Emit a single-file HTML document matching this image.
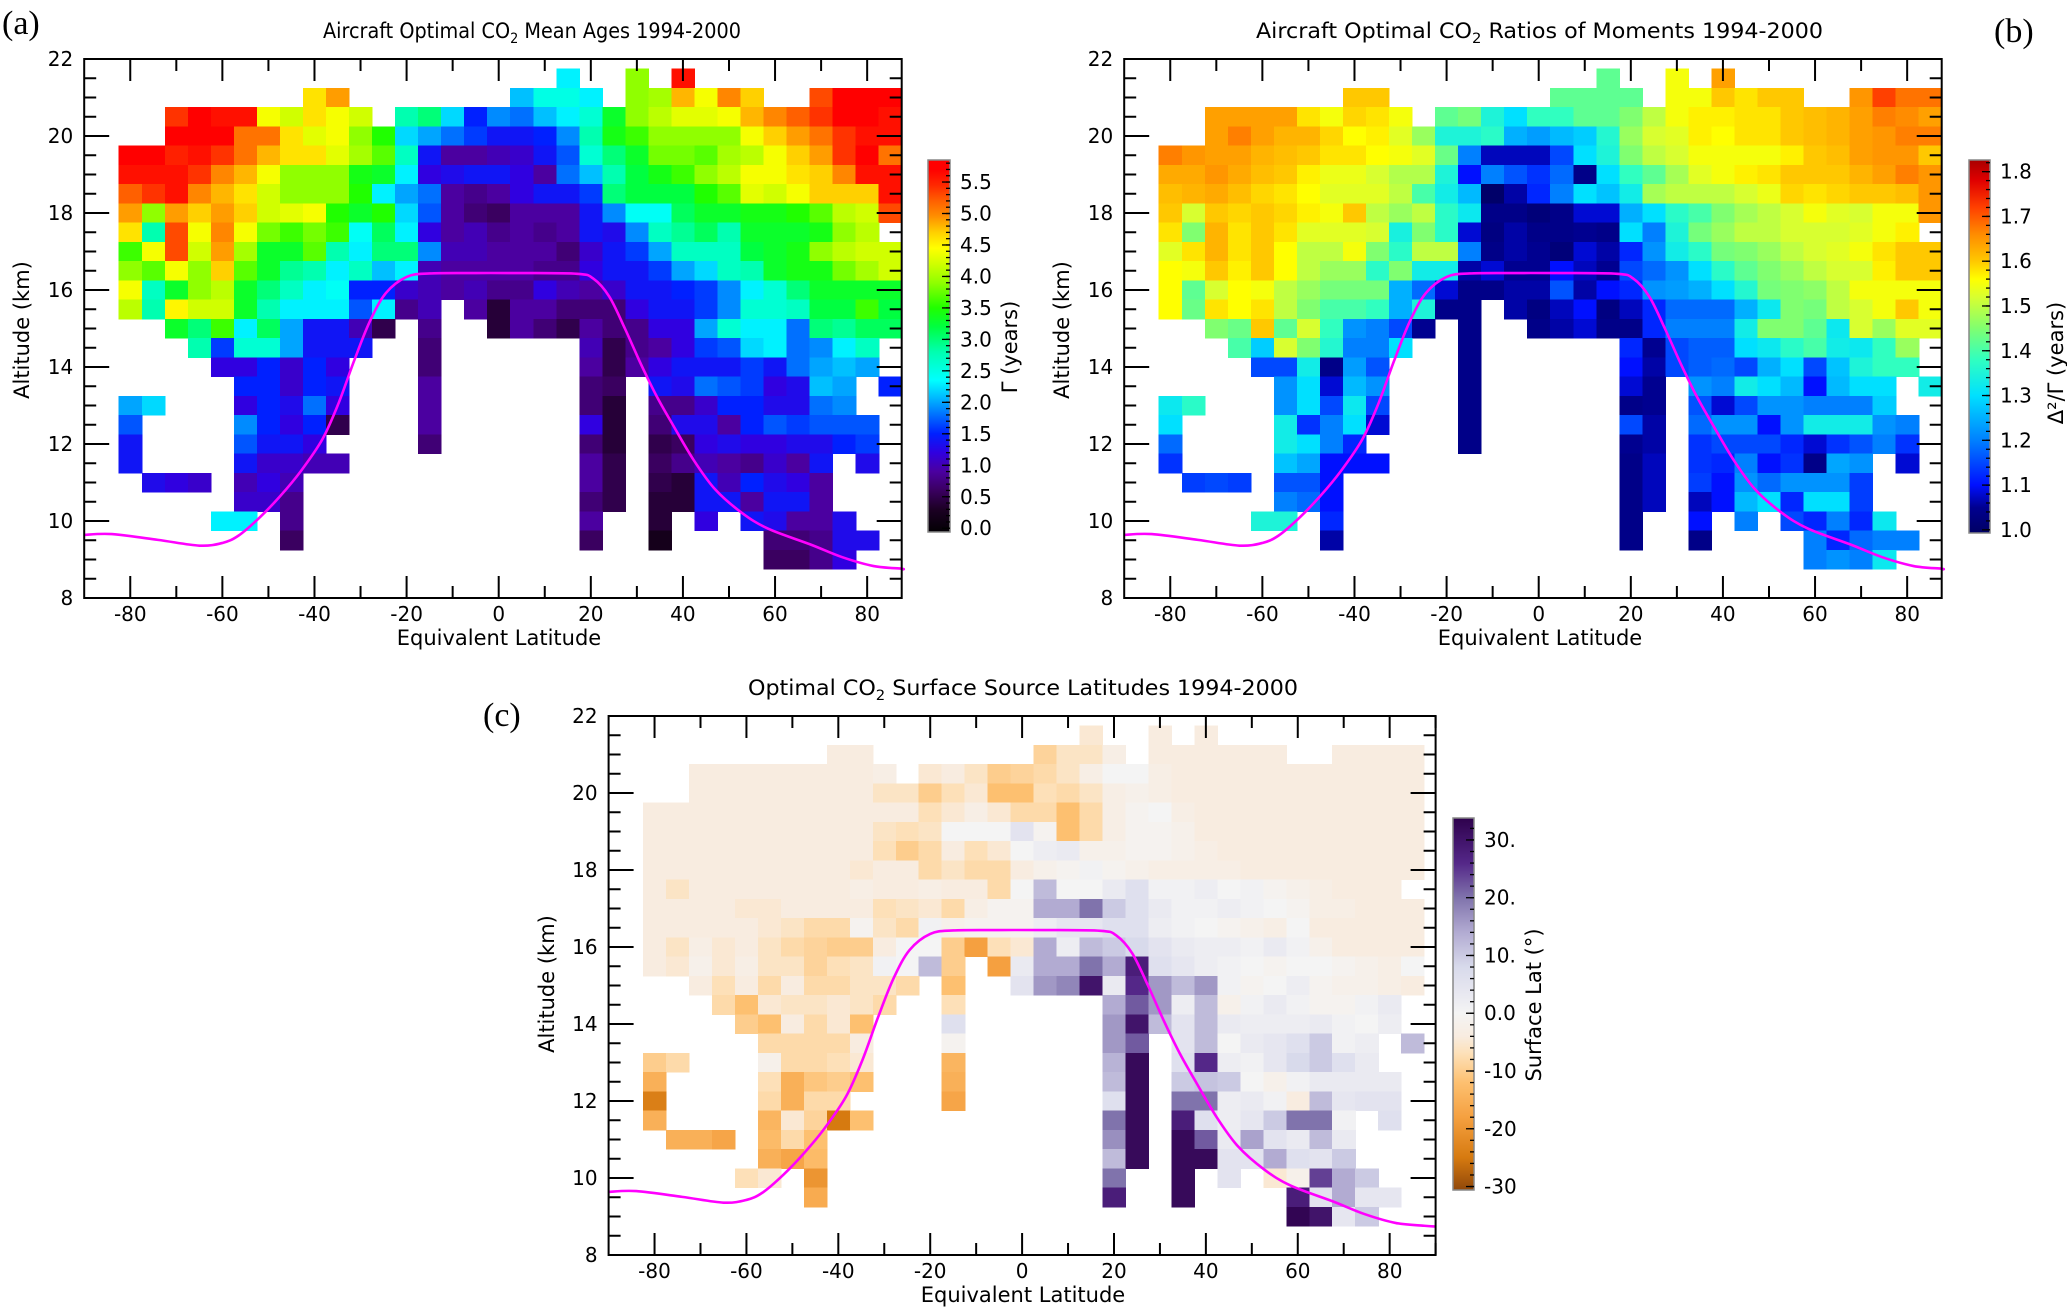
<!DOCTYPE html>
<html><head><meta charset="utf-8"><title>Optimal CO2 charts</title>
<style>
html,body{margin:0;padding:0;background:#fff;}
svg{display:block;font-family:"DejaVu Sans","Liberation Sans",sans-serif;}
</style></head>
<body>
<svg id="chart" width="2067" height="1307" viewBox="0 0 2067 1307">
<rect x="0" y="0" width="2067" height="1307" fill="#fff"/>
<g id="pa"></g>
<g id="pb"></g>
<g id="pc"></g>

<text x="2" y="34" font-family="Liberation Serif, serif" font-size="34">(a)</text>
<text x="1994" y="42" font-family="Liberation Serif, serif" font-size="34">(b)</text>
<text x="483" y="726" font-family="Liberation Serif, serif" font-size="34">(c)</text>

<text x="323" y="38" font-size="21" textLength="418" lengthAdjust="spacingAndGlyphs">Aircraft Optimal CO<tspan font-size="14" dy="5">2</tspan><tspan dy="-5"> Mean Ages  1994-2000</tspan></text>
<text x="1256" y="38" font-size="21" textLength="567" lengthAdjust="spacingAndGlyphs">Aircraft Optimal CO<tspan font-size="14" dy="5">2</tspan><tspan dy="-5"> Ratios of Moments  1994-2000</tspan></text>
<text x="748" y="695" font-size="21" textLength="550" lengthAdjust="spacingAndGlyphs">Optimal CO<tspan font-size="14" dy="5">2</tspan><tspan dy="-5"> Surface Source Latitudes  1994-2000</tspan></text>

<text x="499" y="645" font-size="21" text-anchor="middle">Equivalent Latitude</text>
<text x="1540" y="645" font-size="21" text-anchor="middle">Equivalent Latitude</text>
<text x="1023" y="1302" font-size="21" text-anchor="middle">Equivalent Latitude</text>

<text transform="translate(29,330) rotate(-90)" font-size="21" text-anchor="middle">Altitude (km)</text>
<text transform="translate(1069,330) rotate(-90)" font-size="21" text-anchor="middle">Altitude (km)</text>
<text transform="translate(554,984) rotate(-90)" font-size="21" text-anchor="middle">Altitude (km)</text>

<text transform="translate(1017,347) rotate(-90)" font-size="21" text-anchor="middle">Γ (years)</text>
<text transform="translate(2063,363) rotate(-90)" font-size="21" text-anchor="middle">Δ²/Γ (years)</text>
<text transform="translate(1541,1005) rotate(-90)" font-size="21" text-anchor="middle">Surface Lat (°)</text>
</svg>
<script>
// ---------- data ----------
const latCenters = [-80,-75,-70,-65,-60,-55,-50,-45,-40,-35,-30,-25,-20,-15,-10,-5,0,5,10,15,20,25,30,35,40,45,50,55,60,65,70,75,80,85];
const altCenters = [21.5,21,20.5,20,19.5,19,18.5,18,17.5,17,16.5,16,15.5,15,14.5,14,13.5,13,12.5,12,11.5,11,10.5,10,9.5,9];
const xTickLabels = [-80,-60,-40,-20,0,20,40,60,80];
const yTickLabels = [8,10,12,14,16,18,20,22];

const meanAgeRows = [
"_ _ _ _ _ _ _ _ _ _ _ _ _ _ _ _ _ _ _ 2.3 _ _ 3.9 _ 5.6 _ _ _ _ _ _ _ _ _",
"_ _ _ _ _ _ _ _ 4.6 4.9 _ _ _ _ _ _ _ 2.1 2.5 2.5 2.3 _ 3.9 4.0 4.8 4.4 5.0 4.7 _ _ 5.3 5.7 5.7 5.7",
"_ _ 5.4 5.7 5.6 5.6 4.4 4.2 4.6 4.4 4.2 _ 2.8 3.0 2.2 1.5 1.9 1.8 2.1 2.3 2.6 3.3 3.9 4.1 4.3 4.3 4.4 4.8 5.0 5.2 5.4 5.7 5.7 5.6",
"_ _ 5.7 5.7 5.7 5.1 5.1 4.6 4.3 4.4 3.9 3.5 2.2 2.0 1.8 1.6 1.4 1.4 1.5 1.9 2.8 3.4 3.6 3.9 3.9 3.9 3.9 4.4 4.7 4.9 5.1 5.4 5.6 5.6",
"5.7 5.7 5.5 5.6 5.4 5.1 4.8 4.6 4.6 4.3 4.0 3.7 2.7 1.4 0.9 0.9 1.0 1.1 1.4 1.7 2.6 3.0 3.3 3.8 3.8 3.7 4.0 4.1 4.4 4.7 4.9 5.4 5.7 5.1",
"5.6 5.6 5.6 5.4 5.0 4.8 4.4 3.9 3.9 3.9 3.4 3.3 2.3 1.2 1.3 1.4 1.4 1.2 0.9 1.8 2.1 2.8 3.2 3.4 3.6 3.9 4.1 4.4 4.4 4.6 4.7 5.0 5.6 5.6",
"5.2 5.4 5.6 5.0 4.8 4.6 4.2 3.9 3.9 3.9 3.5 2.3 2.0 1.8 0.9 0.8 0.9 1.2 1.4 1.4 1.6 3.0 3.2 3.2 3.2 3.5 3.7 4.3 4.2 4.4 4.7 4.7 4.7 5.6",
"4.9 3.9 4.9 4.7 4.9 4.7 4.2 4.3 4.4 3.5 3.3 3.5 2.2 1.7 0.9 0.7 0.6 0.9 0.9 0.9 1.4 1.9 2.4 2.4 3.1 3.3 3.3 3.4 3.4 3.5 3.7 4.1 4.2 5.3",
"4.6 2.8 5.3 4.4 5.0 4.4 3.8 3.6 3.8 3.6 2.4 3.1 2.3 1.2 0.9 1.0 0.8 0.9 0.8 0.9 1.4 1.3 1.9 2.7 2.9 3.1 2.8 3.3 3.3 3.3 3.4 3.9 4.1 _",
"3.6 4.4 5.3 4.2 4.9 4.0 3.3 3.3 3.7 2.8 2.3 3.0 3.0 1.9 1.0 1.0 0.9 0.9 0.9 0.7 1.1 1.4 1.6 2.0 2.7 2.7 2.7 3.2 3.3 3.4 3.9 4.1 4.2 4.2",
"3.9 3.7 4.4 3.9 4.7 3.7 3.3 2.9 2.8 2.3 2.7 2.1 2.3 1.0 0.9 0.9 0.9 0.9 0.8 0.8 1.2 1.4 1.4 1.6 2.0 2.2 2.7 2.8 3.3 3.4 3.4 3.8 4.0 4.2",
"4.4 2.7 3.3 3.9 4.1 3.3 3.0 2.7 2.3 2.4 1.5 1.5 1.1 1.0 0.9 1.0 0.8 0.8 1.2 1.0 0.9 1.1 1.4 1.4 1.5 1.6 1.9 2.3 2.6 3.0 3.3 3.3 3.3 3.3",
"4.1 2.8 4.5 4.2 4.2 3.3 2.8 2.3 2.3 2.3 1.7 2.3 0.8 1.0 _ 0.9 0.4 0.9 0.9 0.7 0.7 0.7 1.2 1.4 1.4 1.6 1.9 2.6 2.6 2.7 3.2 3.2 3.6 3.2",
"_ _ 3.3 3.0 3.6 2.3 3.1 2.0 1.4 1.4 1.0 0.5 _ 0.8 _ _ 0.4 0.9 0.7 0.5 0.9 0.7 0.8 1.2 1.2 2.0 2.6 2.3 2.3 1.8 3.0 2.9 3.1 3.1",
"_ _ _ 2.8 1.6 2.6 2.6 2.0 1.4 1.4 1.4 _ _ 0.7 _ _ _ _ _ _ 1.0 0.5 0.8 0.9 1.2 1.6 1.7 2.2 2.3 1.8 1.9 2.3 2.7 _",
"_ _ _ _ 1.2 1.2 1.5 1.1 1.5 1.2 _ _ _ 0.7 _ _ _ _ _ _ 0.9 0.5 0.9 1.2 1.4 1.4 1.4 1.6 1.4 1.8 2.0 2.1 2.0 _",
"_ _ _ _ _ 1.5 1.5 1.1 1.5 1.4 _ _ _ 0.9 _ _ _ _ _ _ 0.7 0.6 _ 1.4 1.3 1.8 1.7 1.6 1.2 1.3 2.1 2.0 _ 1.5",
"2.0 2.2 _ _ _ 1.2 1.5 1.3 1.8 1.2 _ _ _ 0.9 _ _ _ _ _ _ 0.7 0.4 _ 0.8 0.8 1.1 1.5 1.5 1.3 1.3 1.8 1.9 _ _",
"1.7 _ _ _ _ 1.9 1.5 1.2 1.5 0.5 _ _ _ 0.9 _ _ _ _ _ _ 1.2 0.4 _ 0.7 1.3 1.3 0.9 1.5 1.7 1.6 1.7 1.7 1.7 _",
"1.4 _ _ _ _ 1.7 1.4 1.4 1.2 _ _ _ _ 0.7 _ _ _ _ _ _ 0.7 0.4 _ 0.5 0.6 1.2 1.3 1.2 1.2 1.3 1.3 1.5 1.6 _",
"1.4 _ _ _ _ 1.4 1.1 1.1 1.0 1.0 _ _ _ _ _ _ _ _ _ _ 0.9 0.5 _ 0.6 0.8 1.0 0.9 0.8 1.1 0.9 1.4 _ 1.3 _",
"_ 1.3 1.2 1.1 _ 1.0 1.2 1.0 _ _ _ _ _ _ _ _ _ _ _ _ 0.9 0.5 _ 0.5 0.4 1.4 1.0 1.5 1.3 1.2 0.9 _ _ _",
"_ _ _ _ _ 1.1 1.1 0.8 _ _ _ _ _ _ _ _ _ _ _ _ 0.7 0.5 _ 0.4 0.4 1.4 1.4 0.9 1.4 1.4 0.9 _ _ _",
"_ _ _ _ 2.3 2.3 _ 0.8 _ _ _ _ _ _ _ _ _ _ _ _ 0.9 _ _ 0.4 _ 1.2 _ 1.4 1.3 0.9 0.9 1.3 _ _",
"_ _ _ _ _ _ _ 0.6 _ _ _ _ _ _ _ _ _ _ _ _ 0.6 _ _ 0.2 _ _ _ _ 0.7 0.7 0.8 1.3 1.3 _",
"_ _ _ _ _ _ _ _ _ _ _ _ _ _ _ _ _ _ _ _ _ _ _ _ _ _ _ _ 0.6 0.6 0.8 1.2 _ _"
];

const momentRatioRows = [
"_ _ _ _ _ _ _ _ _ _ _ _ _ _ _ _ _ _ _ 1.42 _ _ 1.55 _ 1.64 _ _ _ _ _ _ _ _ _",
"_ _ _ _ _ _ _ _ 1.60 1.60 _ _ _ _ _ _ _ 1.42 1.42 1.42 1.42 _ 1.55 1.55 1.60 1.58 1.60 1.60 _ _ 1.65 1.72 1.68 1.68",
"_ _ 1.64 1.64 1.64 1.64 1.58 1.55 1.59 1.58 1.55 _ 1.42 1.44 1.35 1.30 1.38 1.38 1.42 1.42 1.45 1.50 1.55 1.57 1.57 1.58 1.58 1.60 1.61 1.62 1.64 1.67 1.66 1.64",
"_ _ 1.64 1.67 1.64 1.62 1.62 1.59 1.56 1.57 1.53 1.47 1.35 1.35 1.37 1.25 1.23 1.26 1.28 1.36 1.47 1.52 1.53 1.57 1.56 1.58 1.58 1.60 1.61 1.62 1.64 1.65 1.67 1.67",
"1.67 1.65 1.64 1.64 1.62 1.61 1.60 1.58 1.58 1.56 1.55 1.53 1.43 1.20 1.07 1.07 1.07 1.15 1.30 1.35 1.45 1.50 1.52 1.55 1.55 1.55 1.55 1.57 1.60 1.61 1.64 1.65 1.65 1.60",
"1.63 1.63 1.65 1.63 1.61 1.60 1.57 1.54 1.54 1.52 1.49 1.49 1.35 1.10 1.20 1.16 1.13 1.18 1.04 1.30 1.38 1.42 1.48 1.53 1.55 1.57 1.58 1.60 1.60 1.60 1.62 1.64 1.67 1.65",
"1.61 1.62 1.63 1.61 1.59 1.58 1.56 1.53 1.53 1.53 1.50 1.40 1.33 1.26 1.00 1.06 1.12 1.20 1.30 1.27 1.33 1.48 1.50 1.50 1.50 1.52 1.54 1.59 1.58 1.59 1.60 1.60 1.61 1.65",
"1.60 1.52 1.60 1.59 1.60 1.59 1.57 1.55 1.60 1.50 1.47 1.50 1.37 1.32 1.04 1.04 1.02 1.04 1.08 1.08 1.25 1.30 1.37 1.40 1.45 1.48 1.50 1.52 1.55 1.53 1.52 1.55 1.55 1.65",
"1.58 1.45 1.62 1.58 1.60 1.58 1.53 1.53 1.53 1.52 1.34 1.45 1.37 1.08 1.03 1.06 1.04 1.04 1.05 1.04 1.30 1.20 1.35 1.44 1.47 1.50 1.50 1.52 1.52 1.52 1.53 1.55 1.57 _",
"1.53 1.58 1.62 1.58 1.60 1.56 1.50 1.50 1.55 1.45 1.37 1.50 1.50 1.20 1.04 1.06 1.05 1.02 1.08 1.06 1.12 1.22 1.33 1.37 1.44 1.45 1.47 1.50 1.52 1.53 1.55 1.58 1.60 1.60",
"1.56 1.55 1.60 1.57 1.60 1.56 1.50 1.47 1.47 1.37 1.45 1.33 1.33 1.06 1.08 1.05 1.05 1.10 1.07 1.05 1.15 1.18 1.22 1.30 1.37 1.42 1.45 1.47 1.50 1.52 1.52 1.57 1.60 1.60",
"1.56 1.42 1.52 1.56 1.55 1.50 1.47 1.44 1.44 1.44 1.25 1.18 1.08 1.04 1.04 1.06 1.06 1.16 1.06 1.10 1.12 1.22 1.23 1.25 1.30 1.36 1.44 1.45 1.46 1.50 1.55 1.55 1.55 1.55",
"1.56 1.43 1.58 1.56 1.58 1.50 1.45 1.40 1.40 1.38 1.25 1.35 1.04 1.04 _ 1.06 1.03 1.07 1.10 1.03 1.07 1.12 1.18 1.18 1.18 1.25 1.32 1.45 1.44 1.50 1.52 1.55 1.60 1.55",
"_ _ 1.45 1.43 1.60 1.42 1.52 1.38 1.22 1.20 1.15 1.05 _ 1.04 _ _ 1.04 1.06 1.08 1.04 1.04 1.12 1.20 1.20 1.20 1.33 1.45 1.45 1.42 1.32 1.52 1.47 1.53 1.53",
"_ _ _ 1.40 1.28 1.52 1.45 1.36 1.20 1.20 1.30 _ _ 1.04 _ _ _ _ _ _ 1.12 1.05 1.15 1.17 1.17 1.30 1.32 1.37 1.40 1.33 1.32 1.38 1.47 _",
"_ _ _ _ 1.15 1.15 1.33 1.04 1.23 1.16 _ _ _ 1.04 _ _ _ _ _ _ 1.10 1.06 1.15 1.17 1.18 1.15 1.25 1.30 1.15 1.27 1.35 1.38 1.38 _",
"_ _ _ _ _ 1.22 1.30 1.08 1.26 1.22 _ _ _ 1.04 _ _ _ _ _ _ 1.08 1.05 _ 1.22 1.20 1.33 1.30 1.26 1.10 1.26 1.30 1.30 _ 1.33",
"1.32 1.37 _ _ _ 1.22 1.30 1.15 1.32 1.15 _ _ _ 1.04 _ _ _ _ _ _ 1.04 1.05 _ 1.16 1.08 1.15 1.22 1.22 1.20 1.20 1.20 1.28 _ _",
"1.30 _ _ _ _ 1.33 1.13 1.20 1.30 1.08 _ _ _ 1.04 _ _ _ _ _ _ 1.15 1.06 _ 1.18 1.22 1.22 1.10 1.22 1.33 1.33 1.33 1.22 1.20 _",
"1.18 _ _ _ _ 1.33 1.30 1.20 1.12 _ _ _ _ 1.04 _ _ _ _ _ _ 1.05 1.06 _ 1.13 1.15 1.15 1.15 1.12 1.08 1.13 1.16 1.20 1.13 _",
"1.13 _ _ _ _ 1.27 1.24 1.10 1.10 1.10 _ _ _ _ _ _ _ _ _ _ 1.04 1.07 _ 1.13 1.12 1.20 1.10 1.13 1.04 1.24 1.22 _ 1.08 _",
"_ 1.14 1.15 1.14 _ 1.16 1.16 1.10 _ _ _ _ _ _ _ _ _ _ _ _ 1.04 1.07 _ 1.14 1.10 1.22 1.18 1.22 1.22 1.22 1.14 _ _ _",
"_ _ _ _ _ 1.20 1.18 1.10 _ _ _ _ _ _ _ _ _ _ _ _ 1.04 1.07 _ 1.07 1.10 1.26 1.30 1.12 1.30 1.30 1.14 _ _ _",
"_ _ _ _ 1.35 1.35 _ 1.12 _ _ _ _ _ _ _ _ _ _ _ _ 1.04 _ _ 1.10 _ 1.20 _ 1.15 1.12 1.20 1.12 1.32 _ _",
"_ _ _ _ _ _ _ 1.06 _ _ _ _ _ _ _ _ _ _ _ _ 1.04 _ _ 1.04 _ _ _ _ 1.20 1.12 1.18 1.20 1.20 _",
"_ _ _ _ _ _ _ _ _ _ _ _ _ _ _ _ _ _ _ _ _ _ _ _ _ _ _ _ 1.20 1.22 1.20 1.32 _ _"
];

const sourceLatRows = [
"_ _ _ _ _ _ _ _ _ _ _ _ _ _ _ _ _ _ _ -5 _ _ -4 _ -4 _ _ _ _ _ _ _ _ _",
"_ _ _ _ _ _ _ _ -4 -4 _ _ _ _ _ _ _ -9 -6 -6 -3 _ -4 -4 -4 -4 -4 -4 _ _ -4 -4 -4 -4",
"_ _ -4 -4 -4 -4 -4 -4 -4 -4 -3 _ -5 -4 -6 -10 -9 -8 -6 -3 0 0 -3 -4 -4 -4 -4 -4 -4 -4 -4 -4 -4 -4",
"_ _ -4 -4 -4 -4 -4 -4 -4 -4 -6 -6 -10 -7 -5 -12 -12 -7 -8 -6 -3 -2 -3 -4 -4 -4 -4 -4 -4 -4 -4 -4 -4 -4",
"-4 -4 -4 -4 -4 -4 -4 -4 -4 -4 -4 -4 -7 -5 -3 -5 -8 -8 -12 -8 -3 -1 0 -3 -4 -4 -4 -4 -4 -4 -4 -4 -4 -4",
"-4 -4 -4 -4 -4 -4 -4 -4 -4 -4 -6 -7 -6 0 0 0 5 -1 -12 -8 -3 -1 -1 -2 -4 -4 -4 -4 -4 -4 -4 -4 -4 -4",
"-4 -4 -4 -4 -4 -4 -4 -4 -4 -4 -7 -10 -8 -4 -7 -5 0 2 3 -2 -2 -1 -1 -2 -3 -4 -4 -4 -4 -4 -4 -4 -4 -4",
"-4 -4 -4 -4 -4 -4 -4 -4 -4 -5 -4 -4 -8 -6 -8 -8 -4 -2 -1 1 -1 -2 -3 -3 -3 -3 -4 -4 -4 -4 -4 -4 -4 -4",
"-4 -6 -4 -4 -4 -4 -4 -4 -4 -3 -4 -4 -3 -4 -4 -8 0 12 0 0 3 6 1 1 2 0 1 -1 -2 -3 -4 -4 -4 _",
"-4 -4 -4 -4 -5 -5 -4 -4 -4 -4 -7 -6 -5 -8 -3 -1 -1 14 14 20 10 6 3 1 1 2 1 0 -1 -3 -3 -4 -4 -4",
"-4 -4 -4 -4 -4 -5 -6 -8 -8 -1 -6 -8 1 -2 -1 -1 -1 2 4 4 6 6 2 1 0 -1 -2 -3 0 -4 -4 -4 -4 -4",
"-4 -6 -3 -5 -4 -6 -8 -9 -10 -10 -4 0 0 -10 -18 -7 -5 14 2 12 10 8 5 3 2 2 1 3 1 -2 -4 -4 -4 -4",
"-4 -5 -2 -5 -3 -6 -6 -9 -7 -6 1 0 12 -10 _ -18 3 14 14 20 14 28 6 4 2 1 0 -1 0 0 -1 -2 -3 0",
"_ _ -4 -7 -4 -8 -4 -8 -8 -6 -6 -8 _ -12 _ _ 5 16 18 30 3 26 16 12 16 1 -1 0 2 -1 -2 -2 -3 -4",
"_ _ _ -8 -12 -5 -6 -6 -5 -6 -8 _ _ -7 _ _ _ _ _ _ 14 22 16 2 12 -2 1 3 1 -1 -1 1 3 _",
"_ _ _ _ -10 -12 -4 -8 -5 -12 _ _ _ 6 _ _ _ _ _ _ 16 30 12 5 12 3 2 2 2 3 1 0 2 _",
"_ _ _ _ _ -8 -8 -8 -8 -4 _ _ _ -1 _ _ _ _ _ _ 16 22 _ 5 12 0 3 4 6 10 1 2 _ 12",
"-10 -8 _ _ _ -2 -8 -8 -7 -5 _ _ _ -14 _ _ _ _ _ _ 13 32 _ 6 26 2 1 4 8 10 6 3 _ _",
"-15 _ _ _ _ -7 -15 -11 -10 -12 _ _ _ -15 _ _ _ _ _ _ 12 32 _ 10 11 10 0 -2 1 3 3 3 3 _",
"-24 _ _ _ _ -8 -15 -8 -8 _ _ _ _ -17 _ _ _ _ _ _ 6 32 _ 20 20 2 3 1 -4 12 4 5 5 _",
"-15 _ _ _ _ -14 -5 -9 -25 -12 _ _ _ _ _ _ _ _ _ _ 20 32 _ 28 6 2 4 10 20 20 1 _ 6 _",
"_ -15 -15 -17 _ -13 -8 -12 _ _ _ _ _ _ _ _ _ _ _ _ 17 32 _ 32 22 3 15 5 3 12 3 _ _ _",
"_ _ _ _ _ -15 -17 -13 _ _ _ _ _ _ _ _ _ _ _ _ 12 32 _ 32 32 5 5 14 6 5 10 _ _ _",
"_ _ _ _ -7 -5 _ -20 _ _ _ _ _ _ _ _ _ _ _ _ 20 _ _ 32 _ 5 _ -5 -2 24 14 10 _ _",
"_ _ _ _ _ _ _ -16 _ _ _ _ _ _ _ _ _ _ _ _ 28 _ _ 32 _ _ _ _ 28 5 14 4 4 _",
"_ _ _ _ _ _ _ _ _ _ _ _ _ _ _ _ _ _ _ _ _ _ _ _ _ _ _ _ 33 30 4 10 _ _"
];

// tropopause (equivalent latitude, altitude km)
const tropLat = [-90,-84,-74,-65,-60,-56.5,-52,-47.5,-43,-38.3,-34.8,-31.4,-28,-24.5,-20,-15,-5,5,17,20.5,24,27.4,30.9,34.3,37.8,42.4,47,52.7,58.5,67.7,74.6,81.4,87.5,90];
const tropAlt = [9.64,9.66,9.51,9.36,9.43,9.62,10.08,10.64,11.29,12.12,13.05,14.16,15.18,15.92,16.34,16.43,16.44,16.44,16.42,16.3,15.83,15.0,14.07,13.24,12.5,11.57,10.82,10.22,9.8,9.39,9.06,8.83,8.76,8.74];

const ageTicks = [0,0.5,1,1.5,2,2.5,3,3.5,4,4.5,5,5.5];
const ratioTicks = [1.0,1.1,1.2,1.3,1.4,1.5,1.6,1.7,1.8];
const srcTicks = [30,20,10,0,-10,-20,-30];
const srcTickLabels = ["30.","20.","10.","0.0","-10","-20","-30"];

// ---------- colour maps (style) ----------
const rainbowStops=[[-0.1,'#000000'],[0.3,'#1c0024'],[0.6,'#3a0060'],[0.9,'#4b00a0'],[1.2,'#3000e0'],[1.5,'#0020ff'],[1.8,'#0070ff'],[2.1,'#00c0ff'],[2.35,'#00ffff'],[2.8,'#00ffb0'],[3.2,'#00ff40'],[3.5,'#20ff00'],[3.9,'#90ff00'],[4.2,'#d0ff00'],[4.45,'#ffff00'],[4.7,'#ffd000'],[4.95,'#ff9000'],[5.2,'#ff6000'],[5.45,'#ff2800'],[5.7,'#ff0000'],[6.1,'#ff0000']];
const jetStops=[[0.98,'#00005a'],[1.05,'#000090'],[1.1,'#0010ff'],[1.2,'#0080ff'],[1.3,'#00e0ff'],[1.38,'#30ffc0'],[1.45,'#80ff70'],[1.52,'#d8ff30'],[1.56,'#ffff00'],[1.6,'#ffc800'],[1.66,'#ff8c00'],[1.72,'#ff4000'],[1.78,'#e00000'],[1.86,'#800000']];
const puorStops=[[-32,'#7f3b08'],[-25,'#d67a10'],[-18,'#f5a040'],[-12,'#fdc070'],[-7,'#fde0b8'],[-4,'#f8ece0'],[0,'#f4f4f4'],[4,'#e6e6f0'],[8,'#d8daeb'],[14,'#b2abd2'],[20,'#8073ac'],[26,'#542788'],[34,'#2d004b']];

function hex(c){return [parseInt(c.substr(1,2),16),parseInt(c.substr(3,2),16),parseInt(c.substr(5,2),16)];}
function cmap(stops,v){
  if(v<=stops[0][0]) return stops[0][1];
  for(let i=1;i<stops.length;i++){
    if(v<=stops[i][0]){
      const t=(v-stops[i-1][0])/(stops[i][0]-stops[i-1][0]);
      const a=hex(stops[i-1][1]),b=hex(stops[i][1]);
      return 'rgb('+a.map((x,k)=>Math.round(x+(b[k]-x)*t)).join(',')+')';
    }
  }
  return stops[stops.length-1][1];
}
function parseRows(rows){return rows.map(r=>r.trim().split(/\s+/).map(t=>t==='_'?null:parseFloat(t)));}

const svg=document.getElementById('chart');
const NS=svg.namespaceURI;
function mk(parent,tag,attrs,text){const e=document.createElementNS(NS,tag);for(const k in attrs)e.setAttribute(k,attrs[k]);if(text!=null)e.textContent=text;parent.appendChild(e);return e;}

function drawPanel(g,cfg){
  const X=lat=>cfg.x0+(lat-cfg.latMin)/(cfg.latMax-cfg.latMin)*(cfg.x1-cfg.x0);
  const Y=alt=>cfg.y1-(alt-8)/14*(cfg.y1-cfg.y0);
  const grid=parseRows(cfg.rows);
  const cells=mk(g,'g',{'shape-rendering':'crispEdges'});
  
  
  grid.forEach((row,j)=>{
    row.forEach((v,i)=>{
      if(v===null) return;
      const lat=latCenters[i], alt=altCenters[j];
      const xa=X(Math.max(lat-2.5,cfg.latMin)), xb=X(Math.min(lat+2.5,cfg.latMax));
      const ya=Y(alt+0.25), yb=Y(alt-0.25);
      const r=mk(cells,'rect',{x:xa.toFixed(2),y:ya.toFixed(2),width:(xb-xa+0.6).toFixed(2),height:(yb-ya+0.6).toFixed(2),fill:cmap(cfg.stops,v)});
      
      
    });
  });
  const pts=tropLat.map((la,k)=>[X(Math.min(la,cfg.latMax)),Y(tropAlt[k])]);
  let d='M'+pts[0][0].toFixed(2)+','+pts[0][1].toFixed(2);
  for(let k=0;k<pts.length-1;k++){
    const p0=pts[Math.max(k-1,0)],p1=pts[k],p2=pts[k+1],p3=pts[Math.min(k+2,pts.length-1)];
    const c1=[p1[0]+(p2[0]-p0[0])/6,p1[1]+(p2[1]-p0[1])/6];
    const c2=[p2[0]-(p3[0]-p1[0])/6,p2[1]-(p3[1]-p1[1])/6];
    d+=' C'+c1.map(n=>n.toFixed(2)).join(',')+' '+c2.map(n=>n.toFixed(2)).join(',')+' '+p2.map(n=>n.toFixed(2)).join(',');
  }
  const line=mk(g,'path',{d:d,fill:'none',stroke:'#ff00ff','stroke-width':2.6});
  
  
  const fr=mk(g,'rect',{x:cfg.x0,y:cfg.y0,width:cfg.x1-cfg.x0,height:cfg.y1-cfg.y0,fill:'none',stroke:'#000','stroke-width':2});
  
  
  const ax=mk(g,'g',{stroke:'#000','stroke-width':2});
  
  
  for(let la=-80;la<=cfg.latMax;la+=10){
    const major=(la%20===0);
    const L=major?22:12, x=X(la);
    mk(ax,'line',{x1:x,y1:cfg.y1,x2:x,y2:cfg.y1-L});
    mk(ax,'line',{x1:x,y1:cfg.y0,x2:x,y2:cfg.y0+L});
  }
  for(let a=8.5;a<22;a+=0.5){
    const major=(Math.abs(a%2)<1e-6);
    const L=major?25:12, y=Y(a);
    mk(ax,'line',{x1:cfg.x0,y1:y,x2:cfg.x0+L,y2:y});
    mk(ax,'line',{x1:cfg.x1,y1:y,x2:cfg.x1-L,y2:y});
  }
  xTickLabels.forEach(la=>{
    const t=mk(g,'text',{x:X(la).toFixed(1),y:cfg.y1+23,'font-size':20,'text-anchor':'middle'},String(la));
    
    
  });
  yTickLabels.forEach(a=>{
    const t=mk(g,'text',{x:cfg.x0-11,y:(Y(a)+7).toFixed(1),'font-size':20,'text-anchor':'end'},String(a));
    
    
  });
  const cb=cfg.cb;
  const CY=v=>cb.yb-(v-cb.vmin)/(cb.vmax-cb.vmin)*(cb.yb-cb.yt);
  const bar=mk(g,'g',{'shape-rendering':'crispEdges'});
  
  
  for(let y=cb.yt;y<cb.yb;y+=1){
    const v=cb.vmin+(cb.yb-y-0.5)/(cb.yb-cb.yt)*(cb.vmax-cb.vmin);
    mk(bar,'rect',{x:cb.x0,y:y,width:cb.x1-cb.x0,height:1.2,fill:cmap(cfg.stops,v)});
  }
  const bfr=mk(g,'rect',{x:cb.x0,y:cb.yt,width:cb.x1-cb.x0,height:cb.yb-cb.yt,fill:'none',stroke:'#888','stroke-width':1.5});
  
  
  const mt=mk(g,'g',{stroke:'#000','stroke-width':1.3});
  
  
  for(let v=cb.minorStart;v<=cb.vmax;v+=cb.minorStep){
    const y=CY(v); if(y<cb.yt||y>cb.yb) continue;
    mk(mt,'line',{x1:cb.x1,y1:y,x2:cb.x1-4,y2:y});
  }
  cfg.tickVals.forEach((v,k)=>{
    mk(mt,'line',{x1:cb.x1,y1:CY(v),x2:cb.x1-8,y2:CY(v)});
    const t=mk(g,'text',{x:cb.x1+10,y:(CY(v)+7).toFixed(1),'font-size':20},cfg.tickLabels[k]);
    
    
  });
}

drawPanel(document.getElementById('pa'),{x0:84.2,x1:901.7,y0:59,y1:598,latMin:-90,latMax:87.5,rows:meanAgeRows,stops:rainbowStops,
  cb:{x0:928,x1:950,yt:160,yb:532,vmin:-0.06,vmax:5.85,minorStart:0,minorStep:0.1},
  tickVals:ageTicks,tickLabels:ageTicks.map(v=>v.toFixed(1))});
drawPanel(document.getElementById('pb'),{x0:1124.2,x1:1941.7,y0:59,y1:598,latMin:-90,latMax:87.5,rows:momentRatioRows,stops:jetStops,
  cb:{x0:1969,x1:1990,yt:160,yb:533,vmin:0.993,vmax:1.826,minorStart:1.0,minorStep:0.02},
  tickVals:ratioTicks,tickLabels:ratioTicks.map(v=>v.toFixed(1))});
drawPanel(document.getElementById('pc'),{x0:608.6,x1:1435.6,y0:716,y1:1255,latMin:-90,latMax:90,rows:sourceLatRows,stops:puorStops,
  cb:{x0:1453,x1:1474,yt:818,yb:1190,vmin:-30.6,vmax:33.8,minorStart:-30,minorStep:2},
  tickVals:srcTicks,tickLabels:srcTickLabels});
</script>
</body></html>
